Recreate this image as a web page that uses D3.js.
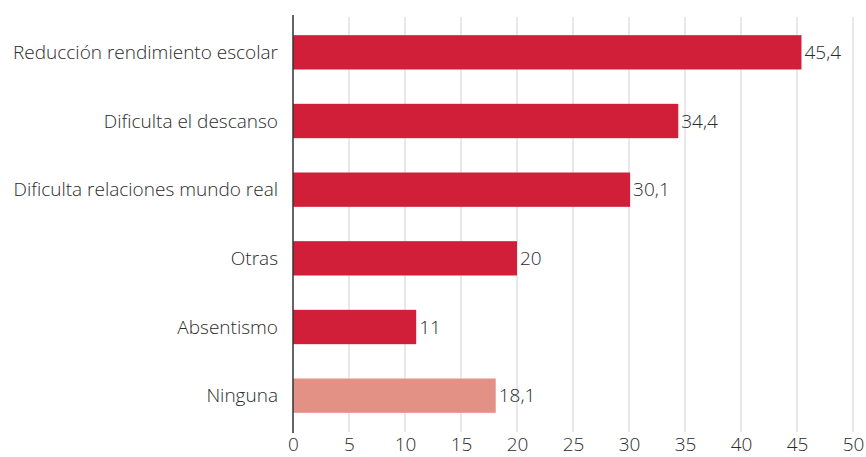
<!DOCTYPE html>
<html>
<head>
<meta charset="utf-8">
<script src="https://cdn.jsdelivr.net/npm/d3@7"></script>
<style>
  body { margin: 0; background: #fff; }
  svg text { font-family: "Open Sans", sans-serif; font-weight: 300; fill: #2b2b2b; }
</style>
</head>
<body>
<svg id="chart" width="866" height="457"></svg>
<script>
const categories = ['Reducción rendimiento escolar', 'Dificulta el descanso', 'Dificulta relaciones mundo real', 'Otras', 'Absentismo', 'Ninguna'];
const values = [45.4, 34.4, 30.1, 20, 11, 18.1];
const barColors = ['#d11f3a', '#d11f3a', '#d11f3a', '#d11f3a', '#d11f3a', '#e49185'];
const tickValues = [0, 5, 10, 15, 20, 25, 30, 35, 40, 45, 50];

const svg = d3.select('#chart');
const plotTop = 18, plotBottom = 430, plotLeft = 293, plotRight = 853;
const fontSize = 19;

const x = d3.scaleLinear().domain([0, 50]).range([plotLeft, plotRight]);
const y = d3.scaleBand().domain(categories).range([plotTop, plotBottom]).paddingInner(0.5).paddingOuter(0.25);

// vertical grid lines
svg.append('g')
  .selectAll('line')
  .data(tickValues.slice(1))
  .enter()
  .append('line')
  .attr('x1', d => x(d)).attr('x2', d => x(d))
  .attr('y1', 17).attr('y2', 432)
  .attr('stroke', '#d9d9d9')
  .attr('stroke-width', 1.2);

// bars
svg.append('g')
  .selectAll('rect')
  .data(values)
  .enter()
  .append('rect')
  .attr('x', x(0))
  .attr('y', (d, i) => y(categories[i]))
  .attr('width', d => x(d) - x(0))
  .attr('height', y.bandwidth())
  .attr('fill', (d, i) => barColors[i]);

// value labels
svg.append('g')
  .selectAll('text')
  .data(values)
  .enter()
  .append('text')
  .attr('x', d => x(d) + 3)
  .attr('y', (d, i) => y(categories[i]) + y.bandwidth() / 2)
  .attr('dy', '0.35em')
  .attr('font-size', fontSize)
  .text(d => String(d).replace('.', ','));

// category labels
svg.append('g')
  .selectAll('text')
  .data(categories)
  .enter()
  .append('text')
  .attr('x', 278)
  .attr('y', d => y(d) + y.bandwidth() / 2)
  .attr('dy', '0.35em')
  .attr('text-anchor', 'end')
  .attr('font-size', fontSize)
  .text(d => d);

// axis line
svg.append('line')
  .attr('x1', x(0)).attr('x2', x(0))
  .attr('y1', 15).attr('y2', 433)
  .attr('stroke', '#333')
  .attr('stroke-width', 1.5);

// x tick labels
const xAxis = svg.append('g')
  .attr('transform', `translate(0,${plotBottom})`)
  .call(d3.axisBottom(x).tickValues(tickValues).tickSize(0).tickPadding(8));
xAxis.select('.domain').remove();
xAxis.selectAll('text')
  .attr('font-size', fontSize)
  .style('font-family', '"Open Sans", sans-serif')
  .style('font-weight', 300)
  .attr('fill', '#2b2b2b');
</script>
</body>
</html>
